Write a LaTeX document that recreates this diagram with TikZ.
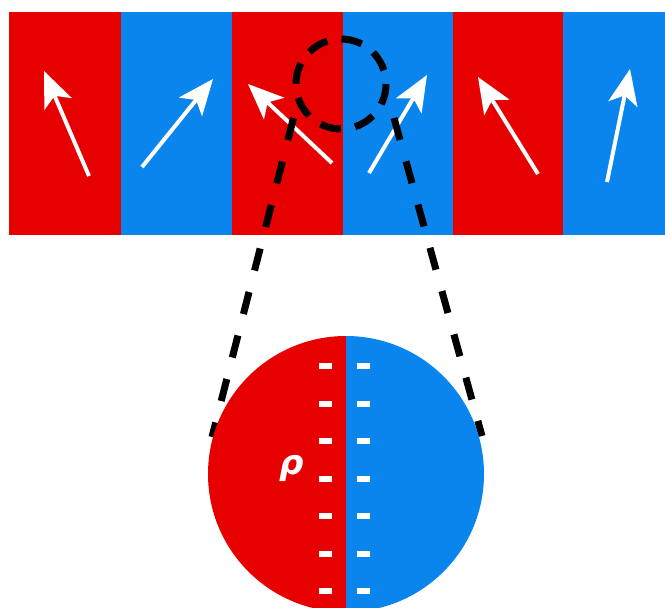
\documentclass[tikz,border=0pt]{standalone}
\usepackage{fontspec}
\newfontfamily\greekfont{DejaVu Sans}
\usetikzlibrary{calc}
\definecolor{domred}{RGB}{230,0,0}
\definecolor{domblue}{RGB}{10,133,238}
\begin{document}
\begin{tikzpicture}[x=1pt,y=-1pt,
  spinshaft/.style={white, line width=4pt},
  spinhead/.style={fill=white, draw=none},
  lensline/.style={black, line width=7pt, dash pattern=on 22.7pt off 22.2pt},
  lensring/.style={black, line width=7pt, dash pattern=on 21pt off 14.4pt},
  charge/.style={fill=white, draw=none}]
\useasboundingbox (0,0) rectangle (665,608);
\clip (0,0) rectangle (665,608);

% domain stripes
\fill[domred]  (9,12)   rectangle (121,235);
\fill[domblue] (121,12) rectangle (232,235);
\fill[domred]  (232,12) rectangle (343,235);
\fill[domblue] (343,12) rectangle (453,235);
\fill[domred]  (453,12) rectangle (563,235);
\fill[domblue] (563,12) rectangle (665,235);

% magnetisation of each domain: shaft plus a notched head
\coordinate (t1) at (89,176);  \coordinate (h1) at (44,71);
\coordinate (t2) at (142,167); \coordinate (h2) at (213,79);
\coordinate (t3) at (332,163); \coordinate (h3) at (248,84);
\coordinate (t4) at (369,173); \coordinate (h4) at (427,75);
\coordinate (t5) at (538,174); \coordinate (h5) at (478,77);
\coordinate (t6) at (607,182); \coordinate (h6) at (630,69);
\foreach \i in {1,...,6} {
  \draw[spinshaft] (t\i) -- ($(h\i)!24pt!(t\i)$);
  \coordinate (b\i) at ($(h\i)!36pt!(t\i)$);
  \fill[spinhead] (h\i) -- ($(b\i)!15pt!90:(h\i)$) -- ($(h\i)!27pt!(t\i)$)
                  -- ($(b\i)!15pt!-90:(h\i)$) -- cycle;
}

% magnified domain wall
\coordinate (lens) at (341,84);
\draw[lensring] (lens) circle[radius=45];
\coordinate (la) at (293.5,118); \coordinate (lb) at (212,437);
\coordinate (ra) at (394,118);   \coordinate (rb) at (482,436);
\draw[lensline] (la) -- (lb);
\draw[lensline] (ra) -- (rb);

% enlarged view of the wall
\coordinate (zoomc) at (346,474);
\begin{scope}
  \clip (zoomc) circle[radius=138];
  \fill[domred]  (200,330) rectangle (346,620);
  \fill[domblue] (346,330) rectangle (490,620);
\end{scope}

% bound charges on both sides of the wall
\foreach \k in {0,...,6} {
  \fill[charge] (319,{363+37.5*\k}) rectangle (332,{369+37.5*\k});
  \fill[charge] (357,{363+37.5*\k}) rectangle (370,{369+37.5*\k});
}

\node[text=white, inner sep=0pt, font=\greekfont\bfseries\itshape\fontsize{34}{34}\selectfont] (rho) at (292,468) {ρ};
\end{tikzpicture}
\end{document}
